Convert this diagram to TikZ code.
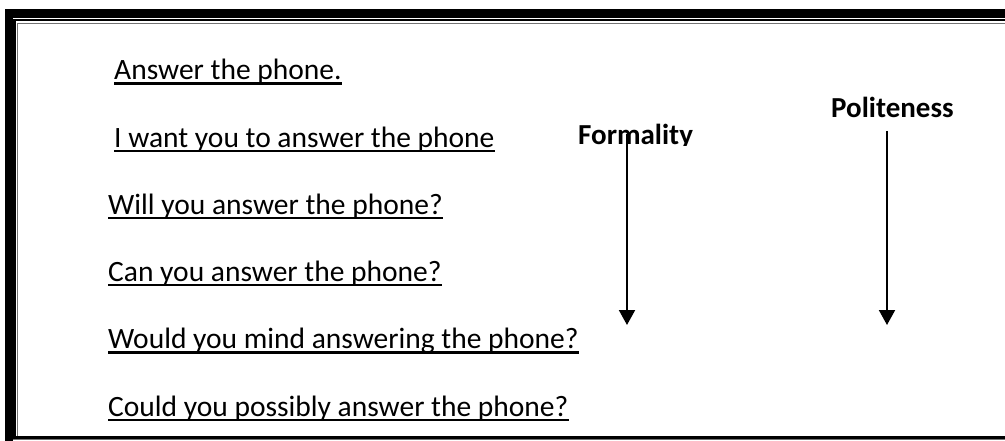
\documentclass[tikz,border=0pt]{standalone}
\usepackage{fontspec}
\setmainfont{Carlito}
\usetikzlibrary{arrows.meta}
\begin{document}
\begin{tikzpicture}[x=1pt,y=-1pt,
  txt/.style={inner sep=0pt, anchor=base west, font=\fontsize{29.5}{35}\selectfont},
  lbl/.style={inner sep=0pt, anchor=base west, font=\fontsize{29}{35}\selectfont\bfseries},
  ul/.style={line width=2.2pt, line cap=butt},
  arr/.style={line width=2pt, -{Triangle[width=16pt,length=15pt]}}]
\useasboundingbox (0,0) rectangle (1005,441);
% frame
\fill[black] (5,9.3) rectangle (1005,18.3);
\fill[black] (5,9.3) rectangle (12.7,441);
\fill[black] (13.4,19.3) rectangle (1005,21.3);
\fill[black] (13.4,19.3) rectangle (15.6,438.8);
\fill[black!55] (16.7,22.7) rectangle (1005,24);
\fill[black!55] (16.7,22.7) rectangle (18.1,436);
\fill[black] (13.4,436) rectangle (1005,438.8);
\fill[black!55] (13.4,438.8) rectangle (1005,440.3);
% sentences
\node[txt] (s1) at (114,80) {Answer the phone.};
\node[txt] (s2) at (114,147.2) {I want you to answer the phone};
\node[txt] (s3) at (108,214.4) {Will you answer the phone?};
\node[txt] (s4) at (108,281.6) {Can you answer the phone?};
\node[txt] (s5) at (108,348.8) {Would you mind answering the phone?};
\node[txt] (s6) at (108,416) {Could you possibly answer the phone?};
\foreach \n in {s1,s2,s3,s4,s5,s6}
  \draw[ul] ([yshift=-3.6pt]\n.base west) -- ([yshift=-3.6pt]\n.base east);
% labels
\begin{scope}
  \clip (560,100) rectangle (720,145.8);
  \node[lbl] (form) at (578,145) {Formality};
\end{scope}
\node[lbl] (pol) at (831,118) {Politeness};
\coordinate (fa) at (627,134);
\coordinate (fb) at (627,325);
\coordinate (pa) at (887,131);
\coordinate (pb) at (887,325);
\draw[arr] (fa) -- (fb);
\draw[arr] (pa) -- (pb);
\end{tikzpicture}
\end{document}
